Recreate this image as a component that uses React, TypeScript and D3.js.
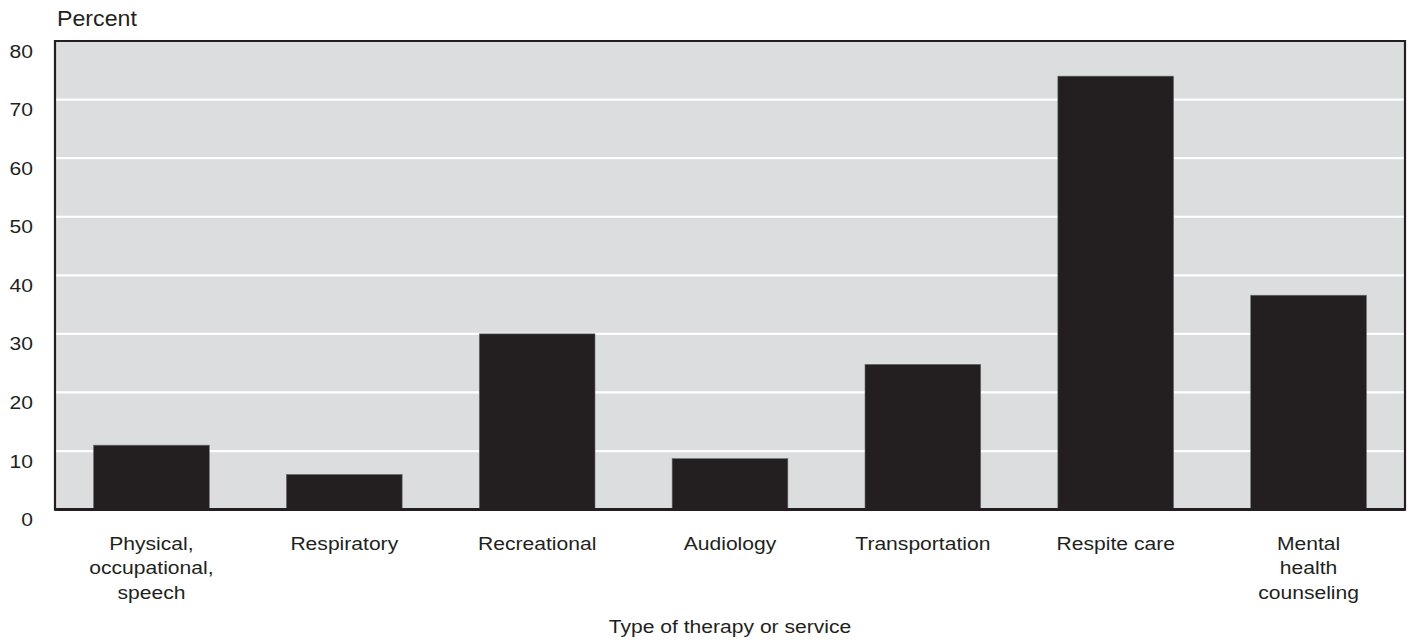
import React from "react";
import * as d3 from "d3";

const categories: string[][] = [
  ["Physical,", "occupational,", "speech"],
  ["Respiratory"],
  ["Recreational"],
  ["Audiology"],
  ["Transportation"],
  ["Respite care"],
  ["Mental", "health", "counseling"],
];
const values: number[] = [11.0, 6.0, 30.0, 8.7, 24.8, 74.0, 36.6];
const yTicks: number[] = [0, 10, 20, 30, 40, 50, 60, 70, 80];
const yLabel = "Percent";
const xLabel = "Type of therapy or service";

const W = 1408;
const H = 640;
const left = 55;
const right = 1405;
const top = 41;
const bottom = 509.6;
const font = "'Liberation Sans', Arial, Helvetica, sans-serif";
const ink = "#231f20";
const fs = 18.5;
const sx = 1.14;

function Label({ x, y, anchor, size = fs, scaleX = sx, lines, lh = 25 }: any) {
  return (
    <text
      transform={`translate(${x},${y}) scale(${scaleX},1)`}
      textAnchor={anchor}
      fontSize={size}
      fill={ink}
    >
      {lines.map((ln: string, j: number) => (
        <tspan key={j} x={0} y={j * lh}>
          {ln}
        </tspan>
      ))}
    </text>
  );
}

export default function App() {
  const keys = categories.map((c) => c.join(" "));
  const x = d3.scaleBand<string>().domain(keys).range([left, right]).paddingInner(0.4).paddingOuter(0.2);
  const y = d3.scaleLinear().domain([0, 80]).range([bottom, top]);

  return (
    <svg
      width={W}
      height={H}
      style={{ position: "absolute", left: 0, top: 0, display: "block", background: "#fff" }}
      fontFamily={font}
    >
      <rect x={left} y={top} width={right - left} height={bottom - top} fill="#dcdddf" />
      {yTicks
        .filter((t) => t > 0 && t < 80)
        .map((t) => (
          <line key={t} x1={left} x2={right} y1={y(t)} y2={y(t)} stroke="#ffffff" strokeWidth={2.2} />
        ))}
      {values.map((v, i) => (
        <rect
          key={keys[i]}
          x={x(keys[i])}
          y={y(v)}
          width={x.bandwidth()}
          height={y(0) - y(v)}
          fill={ink}
          stroke="#6b6b6b"
          strokeWidth={0.6}
        />
      ))}
      <path
        d={`M${left},${top}H${right}V${bottom}H${left}Z`}
        fill="none"
        stroke={ink}
        strokeWidth={2.2}
      />
      <line x1={left} x2={right} y1={bottom} y2={bottom} stroke={ink} strokeWidth={3} />
      {yTicks.map((t) => (
        <Label key={t} x={33} y={y(t) + 16.5} anchor="end" lines={[String(t)]} />
      ))}
      <Label x={57} y={26} anchor="start" size={22.5} scaleX={1.03} lines={[yLabel]} />
      {categories.map((lines, i) => (
        <Label
          key={keys[i]}
          x={(x(keys[i]) as number) + x.bandwidth() / 2}
          y={549.5}
          anchor="middle"
          lines={lines}
        />
      ))}
      <Label x={(left + right) / 2} y={633} anchor="middle" lines={[xLabel]} />
    </svg>
  );
}
